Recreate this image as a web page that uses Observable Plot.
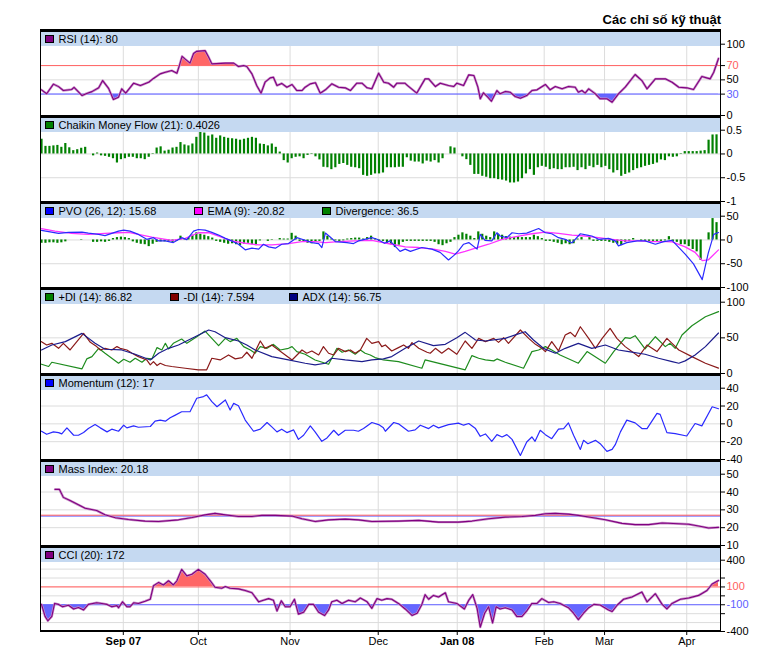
<!DOCTYPE html>
<html><head><meta charset="utf-8">
<script src="https://cdn.jsdelivr.net/npm/d3@7"></script>
<script src="https://cdn.jsdelivr.net/npm/@observablehq/plot@0.6"></script>
<style>
html,body{margin:0;padding:0;background:#fff;}
#chart{position:relative;width:760px;height:662px;font-family:"Liberation Sans",Arial,sans-serif;overflow:hidden;}
.title{position:absolute;right:39px;top:12px;font-size:13px;font-weight:bold;color:#000;}
.border{position:absolute;left:40px;width:681px;height:2.5px;background:#000;}
.header{position:absolute;left:41px;width:679px;height:14.5px;background:#c5d9f1;}
.item{position:absolute;top:0;height:14.5px;display:flex;align-items:center;font-size:11px;white-space:nowrap;color:#000;}
.sw{display:inline-block;width:6.5px;height:6.5px;border:1px solid #000;margin-right:5px;}
.vline{position:absolute;top:29px;width:1px;height:603px;background:#000;}
</style></head>
<body><div id="chart"></div>
<script>
// ---- x axis (trading-day index) ----
const monthTicks = [20.6, 39.5, 62.6, 84.8, 104.7, 126.6, 141.8, 162.5];
const monthLabels = ["Sep 07","Oct","Nov","Dec","Jan 08","Feb","Mar","Apr"];

// ---- RSI (14) [index, value] ----
const rsi = [[0,36],[1.3,30.5],[3,44],[4.3,40.5],[5.5,35],[7.6,36.5],[8.2,39.5],[9,35],[10.2,28],[11.4,31],[12.7,33.5],[14.4,38.8],[15.4,49],[16.9,38],[18.1,22.4],[19.4,25.7],[20.2,37.4],[21.2,31.3],[23.2,45.3],[24.9,42],[27,46.7],[28.2,52],[29.9,58.4],[31.2,60.7],[32.8,63],[34.1,59.3],[34.7,69.6],[35.4,83],[36.2,79],[37.4,73.4],[38.3,87],[39.1,90],[41.2,91],[42.1,81.8],[42.9,72.4],[46.3,73.4],[48.4,73.4],[49.6,68.7],[50.9,70],[51.7,68.7],[53,58.4],[54.2,42],[55.3,31.3],[56.3,46.7],[57.6,52.8],[58.4,53.7],[59.3,42],[60.5,45],[61.8,39.7],[63.1,43.5],[64.3,35],[65.6,35],[66.4,39.7],[67.7,44.4],[69,46],[70.2,31.3],[71.5,36],[73.1,44.4],[74.8,39.7],[76.5,38.8],[77.8,35],[79.4,45.3],[80.7,45.3],[82,38.8],[83.2,37.4],[84.9,59.3],[86.2,46.7],[87.4,45.3],[88.7,39.7],[89.5,45.3],[91.5,45.3],[92.2,42],[94.5,31.3],[96.6,51.4],[97.5,51.4],[99.2,40.6],[100.4,45.3],[102.5,42],[103.8,40.6],[104.6,45.3],[106.3,42],[107.6,57],[108.9,56],[109.9,39.7],[110.5,23.4],[111.3,31.8],[112.4,25.7],[113.3,20],[114.7,35],[115.5,30.4],[116.8,33.6],[118,32.7],[119.3,26.6],[120.6,24.3],[122.2,28],[123.5,35],[124.8,36],[126.9,43.5],[128.1,36],[129.4,40.6],[131.1,37.4],[132.7,40.6],[134.4,39.7],[135.2,32.7],[136.1,35],[136.9,31.3],[137.8,37.4],[139.5,30.4],[140.7,23.4],[142.4,23.4],[143.7,18.7],[145.3,30.4],[147,39.7],[149.5,57.5],[151.2,49],[152.5,37.4],[154.6,51.4],[157.1,51.4],[158.8,46.7],[160.5,39.7],[162.5,38.8],[164.2,36.4],[166.3,54.7],[168.4,51.4],[169.3,60.7],[170.5,80]];

// ---- Chaikin Money Flow (21), one bar per trading day ----
const cmf = [0.31,0.16,0.16,0.17,0.18,0.14,0.22,0.13,0.07,0.09,
0.12,0.14,0,-0.04,0.02,-0.04,-0.05,-0.07,-0.1,-0.19,
-0.12,-0.1,-0.07,-0.07,-0.1,-0.1,-0.12,-0.07,-0.01,0.125,
0.15,0.06,0.08,0.125,0.14,0.24,0.19,0.17,0.21,0.35,
0.47,0.44,0.375,0.4,0.33,0.38,0.35,0.33,0.32,0.31,
0.29,0.31,0.33,0.35,0.33,0.21,0.2,0.17,0.21,0.14,
0.04,-0.14,-0.19,-0.1,-0.07,-0.06,-0.1,-0.03,-0.01,-0.06,
-0.125,-0.28,-0.29,-0.33,-0.29,-0.22,-0.2,-0.24,-0.28,-0.29,
-0.31,-0.45,-0.47,-0.45,-0.42,-0.42,-0.4,-0.29,-0.29,-0.29,
-0.28,-0.28,-0.08,-0.15,-0.17,-0.17,-0.21,-0.15,-0.17,-0.14,
-0.19,-0.1,0,0.15,0.125,0,-0.06,-0.12,-0.24,-0.43,
-0.43,-0.47,-0.49,-0.52,-0.52,-0.54,-0.55,-0.57,-0.61,-0.61,
-0.59,-0.52,-0.42,-0.33,-0.45,-0.29,-0.26,-0.28,-0.33,-0.31,
-0.33,-0.33,-0.29,-0.29,-0.28,-0.35,-0.29,-0.33,-0.26,-0.29,
-0.24,-0.29,-0.26,-0.33,-0.4,-0.35,-0.47,-0.43,-0.4,-0.35,
-0.31,-0.29,-0.26,-0.24,-0.22,-0.19,-0.125,-0.14,-0.06,-0.07,
-0.06,-0.01,0.05,0.05,0.05,0.05,0.06,0.07,0.29,0.4,
0.4026];

// ---- PVO (26,12), EMA (9) [index, value]; Divergence per day ----
const pvo = [[0,20],[4.3,13.8],[6.8,15.9],[10.2,16.6],[11.8,14.5],[14.4,11.7],[16,9],[19.4,18.6],[20.7,20.7],[22.3,18.6],[24.4,11.7],[26.5,1.4],[28.2,4.8],[29.5,-2],[31.2,-2],[33.2,-5.5],[35.3,4.8],[36.6,0.7],[38.3,18.6],[39.5,22],[41.2,20.7],[42.9,15.9],[44.6,10.3],[46.3,3.4],[47.9,-2],[49.6,-9],[51.3,-20.7],[53,-17.2],[54.7,-19.3],[55.9,-9],[57.2,-14.5],[58.9,-17.2],[60.5,-9],[62.2,-7.6],[64.3,4.8],[66.4,-0.7],[68.1,-5.5],[69.8,-7.6],[70.6,-15.9],[71.5,14.5],[72.7,6.2],[74,-3.4],[76.9,-5.5],[78.6,-7.6],[79.8,-2],[83.2,4.8],[84.5,1.4],[86.4,-7],[87.8,-2],[90.3,-24],[91.6,-19.3],[92.9,-24],[95.8,-15.9],[98.3,-19.3],[100.4,-26.2],[102.5,-42],[103.8,-33],[105,-22.8],[106.3,-9],[107.6,-5.5],[109.7,-19.3],[110.5,11.7],[111.7,-0.7],[113.4,-2],[114.7,15.2],[115.5,8.3],[117.2,4.8],[118.5,15.2],[120.2,13.1],[122.2,14.5],[125.2,24.1],[126.9,15.2],[128.5,13.1],[130.2,4.8],[131.9,1.4],[133.6,-6.2],[135.7,13.1],[137.4,10.3],[138.6,8.3],[140.3,1.4],[142.8,3.4],[144.5,-2],[145.3,-12.4],[147.4,-5.5],[150,-2],[152,-2],[154.6,-9],[156.7,-3.4],[158.8,-0.7],[162.1,-29.7],[164.2,-50.3],[166.4,-83.4],[167.9,-28.3],[169.3,11.7],[170.5,15.68]];
const ema = [[0,24],[3.4,18.6],[7.6,13.8],[11.8,11.7],[16,13.8],[19.4,15.2],[21.9,15.9],[24.4,11.7],[27.8,6.2],[32.8,-0.7],[36.2,3.4],[39.5,15.2],[42.1,15.2],[44.6,8.3],[47.9,-2],[51.3,-6.9],[54.7,-10.3],[58,-10.3],[62.2,-7.6],[65.6,-3.4],[68.9,-3.4],[71.5,-5.5],[74.8,-3.4],[79,-2],[83.2,-0.7],[88.2,-9],[91.6,-14.5],[95,-15.9],[98.7,-19.3],[101.7,-24.1],[104.2,-29.7],[106.7,-24.1],[109.7,-15.9],[112.6,-9],[116,1.4],[120.2,8.3],[123.5,13.1],[126.9,16.6],[130.2,13.8],[133.6,10.3],[136.9,8.3],[140.3,4.8],[143.7,1.4],[147,-2],[150.4,-2],[153.7,-3.4],[157.1,-3.4],[158.8,-4.1],[162.1,-14.5],[164.6,-26.2],[166.4,-43.4],[167.9,-42],[170.5,-20.82]];
const divergence = [-7,-7,-6,-6,-7,-6,-4,0,0,0,
1,0,0,-5,-5,-4,-5,-3,3,5,
6,5,3,-4,-7,-9,-10,-14,-9,-5,
-4,-4,-3,-5,-3,8,3,5,10,15,
12,10,7,4,-3,-5,-7,-9,-8,-10,
-12,-9,-7,-10,-12,-2,0,-3,-1,0,
3,2,2,14,8,-3,-5,-7,-8,-5,
-3,17,8,2,-2,-3,-2,2,3,4,
4,2,5,8,3,-3,-3,-7,-10,-16,
-11,-5,-3,-3,-3,-3,-3,-3,-3,-5,
-10,-12,-8,-5,5,10,15,12,8,3,
17,12,8,5,17,12,10,7,6,5,
7,5,5,5,10,7,3,-3,-3,-5,
-7,-10,-8,-10,-8,2,5,0,5,-3,
-3,-3,-3,-5,-7,-9,-12,-5,-3,3,
0,-3,-3,-3,-3,-3,-3,-2,7,-3,
-5,-10,-10,-14,-20,-25,-43,0,15,45,
36.5];

// ---- +DI, -DI, ADX (14) [index, value] ----
const plusDI = [[0,13],[1.8,9.8],[2.6,15.8],[10.2,6.5],[11.4,20.5],[12.7,23.7],[14.4,35.3],[16,28.4],[19.4,14.4],[20.7,20],[22.3,15.8],[23.6,21.4],[25.3,15.8],[26.5,21.4],[27.8,20.5],[29.1,36.3],[30.3,33],[31.2,42.3],[32,34.4],[33.2,42.3],[35.3,48.4],[36.6,42.3],[39.1,51.6],[41.2,59.5],[42.9,49.3],[44.6,39],[46.3,49.3],[47.5,44.7],[49.2,49.3],[50.9,37.7],[52.6,33],[53.8,28.4],[55.1,37.7],[56.8,35.3],[58.4,40.9],[60.1,33],[62.2,35.3],[63.1,37.7],[64.3,30.7],[66.4,27],[68.9,19],[72.3,13],[73.1,21.4],[74.4,35.3],[75.7,29.8],[77.3,33],[79,27],[80.3,33],[81.5,28.4],[82.8,26],[84,22.3],[86.1,19],[89.9,16.7],[95.8,7.4],[96.6,19],[106.7,5.1],[108.4,25.1],[110.1,21.4],[111.8,19],[113.9,17.7],[114.7,20.5],[116.8,15.8],[121.4,7.4],[123.5,30.7],[125.2,33],[126.9,37.7],[128.5,33],[130.6,26],[135.2,14.4],[137.4,30.7],[142,14.4],[144.1,30.7],[147,50.2],[148.3,49.3],[149.5,53],[152,34.4],[154.6,51.6],[157.1,37.7],[158.3,42.3],[159.6,35.3],[161.3,54],[163.8,67],[167.2,79.5],[170.5,86.82]];
const minusDI = [[0,44.7],[1.3,40],[2.6,42.3],[4.3,35.3],[5.5,42.3],[7.2,33],[10.6,56.3],[12.3,43.7],[13.9,37.7],[14.8,33],[16,35.3],[17.7,33],[19,37.7],[19.8,35.3],[21.5,33],[22.8,28.4],[24.4,23.7],[26.5,19],[27.4,12.1],[28.2,16.7],[29.1,11.2],[29.9,14.4],[31.2,11.2],[32.8,9.8],[36.2,7.4],[39.5,5.1],[41.6,5.1],[42.9,21.4],[45,19],[47.1,26],[48.8,20.5],[50.5,22.3],[51.7,29.8],[53,21.4],[55.1,45.6],[56.3,35.3],[58,40],[59.7,33],[63.1,19],[65.6,33],[66.8,28.4],[68.1,31.6],[69.8,26],[71,37.7],[72.3,28.4],[73.6,26],[74.8,35.3],[76.5,30.7],[77.8,33],[79,28.4],[80.3,33],[81.9,49.3],[83.2,42.3],[84.9,44.7],[85.7,37.7],[86.6,40],[88.2,31.6],[89.9,36.3],[91.2,40],[92.4,35.3],[93.3,43.3],[95,35.3],[97.1,29.8],[97.9,28.4],[99.2,35.3],[100.8,28.4],[102.5,35.3],[104.6,27],[106.7,45.6],[108.4,35.3],[110.1,49.3],[111.8,44.7],[113.9,49.3],[115.1,43.7],[116.4,50.2],[117.6,42.3],[120.6,61],[122.7,49.3],[124.4,40.9],[126,35.3],[126.9,30.7],[128.5,44.7],[130.2,31.6],[131.9,54],[133.2,57.7],[134.4,51.6],[135.7,65.6],[137.8,49.3],[139.5,35.3],[141.2,49.3],[143.2,63.3],[144.9,49.3],[147,37.7],[150.4,23.7],[152.5,40],[155,30.7],[157.5,49.3],[158.8,42.3],[160.5,33],[163.8,23.7],[167.2,14.4],[170.5,7.594]];
const adx = [[0,33],[2.6,40],[6,44.7],[10.2,56.3],[13.5,42.3],[16,34],[20.2,33],[23.6,27],[27.4,19],[29.5,28.4],[32,35.3],[34.5,40],[38.7,51.6],[42.1,61],[43.7,58.6],[46.3,50.2],[49.6,45.6],[51.7,40],[53.8,33],[58,23.7],[62.2,19],[66.4,14.4],[68.9,12.1],[71.5,14.4],[73.1,21.4],[76.5,19],[80.7,16.7],[83.2,19],[86.1,20.5],[88.2,23.7],[91.6,35.3],[95,45.6],[98.7,39],[101.7,40.9],[104.6,50.2],[106.7,57.7],[109.3,47],[111.8,45.6],[116.8,49.3],[119.7,54.9],[121.8,58.6],[123.9,47],[126.4,35.3],[129.4,28.4],[131.9,35.3],[135.2,42.3],[138.6,35.3],[142,40],[145.3,33],[147.9,30.7],[152,27],[155.4,21.4],[158.8,16.7],[160.5,14.4],[162.1,17.7],[164.6,26],[167.2,37.7],[170.5,56.75]];

// ---- Momentum (12) ----
const momentum = [[0,-8.3],[1.3,-11.7],[3,-9],[4.3,-9.8],[5.1,-11.3],[6.4,-4.5],[8.1,-12.8],[9.3,-12.8],[10.6,-9.8],[11.8,-5.3],[13.5,-0.8],[14.8,-4.5],[16.5,-9],[17.7,-6],[19.4,-8.3],[20.7,-1.5],[21.5,-4.5],[23.2,-2.3],[24.4,-3.8],[27.4,-3],[28.6,3],[29.9,4.2],[31.2,3],[32.4,6.8],[33.7,9.8],[35.3,13.6],[37.4,13.6],[39.1,28.7],[40.8,30.6],[41.6,32.5],[42.9,24.9],[44.2,19.2],[46.3,26.8],[47.5,15.5],[48.4,23],[49.6,20.4],[51.3,4.2],[53.4,-8.3],[55.1,-6],[56.8,1.5],[58,-3.4],[59.3,-9],[60.5,-6],[61.8,-9.8],[63.5,-6.8],[64.7,-17.4],[66,-12.8],[67.7,-2.3],[68.9,-9],[70.6,-19.6],[71.9,-15.8],[73.6,-7.2],[74.8,-12.8],[76.5,-7.2],[78.6,-7.2],[79.8,-8.3],[81.1,-5.3],[83.2,1.5],[84.9,-0.8],[86.1,-4.5],[86.6,-8.3],[88.7,1.5],[89.9,0],[92.4,-8.3],[94.1,-6.8],[95.4,-1.5],[97.5,-5.3],[98.7,-1.5],[100,-4.5],[102.5,-0.8],[105,0.8],[106.3,-1.5],[107.6,0.4],[109.3,-5.3],[110.5,-14],[111.8,-11.3],[113.4,-19.6],[114.7,-12.1],[116,-14.7],[117.2,-12.1],[118.5,-17.4],[120.6,-35.5],[122.2,-20.4],[123.5,-14.7],[124.3,-19.6],[125.6,-7.2],[126.9,-12.1],[128.5,-16.6],[130.2,-6],[131.5,-5.3],[132.7,1.1],[134,-12.8],[135.7,-28.7],[136.5,-18.5],[137.6,-22.3],[139.5,-18.5],[140.7,-22.3],[142.4,-30.9],[143.7,-28.7],[144.5,-23.4],[145.8,-9],[147.4,4.2],[149.5,1.1],[151.2,-5.3],[152.5,-5.3],[155,11.7],[155.8,10.6],[157.5,-9.8],[159.6,-10.9],[162.5,-13.6],[164.6,0.4],[166.3,-2.3],[168.9,19.2],[170.5,17]];

// ---- Mass Index ----
const massIndex = [[3.4,41.5],[4.5,41.5],[5.5,37],[7.2,35.2],[9.3,32.8],[11,30.9],[13.9,29.6],[16,27.2],[18.6,25.6],[21.9,24.6],[26.1,23.7],[29.5,23.5],[34.5,24.4],[37.9,25.7],[41.2,27.2],[43.7,28],[46.3,27.2],[49.6,26.3],[53,26.3],[55.5,26.9],[58.9,26.9],[63.1,26.5],[65.6,25],[68.9,23.5],[72.3,24.4],[76.5,24.8],[79.8,24.4],[83.2,23.5],[89.9,23.7],[95,24.1],[100,23.1],[105,23.1],[108.4,23.7],[112.6,25],[116.8,25.9],[121,26.3],[124.4,26.9],[126.9,27.8],[129.4,28],[132.7,27.6],[135.2,26.9],[138.6,25.7],[142,24.4],[146.2,22.4],[149.5,21.7],[152.9,21.7],[156.3,22.6],[160.5,22.2],[163,21.9],[165.5,20.9],[168,19.8],[170.5,20.18]];

// ---- CCI (20) ----
const cci = [[0,-96],[0.9,-230],[1.6,-280],[2.6,-230],[3.3,-85],[4.3,-96],[5.3,-122],[6.8,-105],[8.1,-147],[9.3,-130],[10.6,-158],[11.8,-96],[13.9,-78],[15.2,-85],[16.5,-96],[17.7,-122],[19,-110],[19.4,-133],[20.4,-67],[21.5,-122],[22.3,-122],[23.2,-78],[24.4,-85],[26.1,-60],[27.4,-38],[28.2,114],[29.5,151],[30.7,122],[32,169],[33.2,122],[34.1,169],[35.3,297],[36.6,224],[37.9,242],[39.5,297],[41.2,242],[42.5,169],[43.7,96],[45.4,85],[46.3,104],[47.5,85],[49.6,78],[51.3,60],[53,35],[54.7,-67],[55.9,-49],[57.2,-31],[58.4,-49],[59.3,-169],[60.4,-56],[61.4,-122],[62.6,-122],[63.7,-38],[64.7,-205],[66,-184],[67.3,-96],[68.5,-96],[69.8,-184],[71.3,-220],[72.3,-158],[73.1,-67],[74.4,-49],[75.7,-85],[77.3,-49],[79,-67],[80.3,-24],[82,-67],[83.2,-140],[84.5,-31],[85.7,-49],[87,-31],[88.2,-38],[89.9,-85],[91.6,-147],[93.3,-220],[94.6,-195],[95.8,-96],[96.6,13],[97.5,-38],[98.7,5],[100,-13],[101.7,35],[102.5,-67],[104.6,-85],[106.5,-147],[107.6,-49],[108.6,13],[109.7,-140],[110.5,-351],[111.6,-195],[112.6,-122],[113.6,-304],[114.5,-122],[115.5,-147],[116.8,-133],[118.5,-158],[119.7,-231],[121,-231],[122.2,-169],[123.5,-85],[124.8,-85],[126,-31],[127.7,-75],[129,-67],[130.6,-85],[132.7,-133],[134,-195],[135.2,-267],[136.5,-195],[137.8,-133],[139.1,-96],[140.7,-103],[142.8,-158],[143.7,-176],[145,-103],[146.6,-38],[148.7,-13],[151.2,42],[152.5,-67],[154.6,24],[156.3,-96],[157.5,-147],[158.8,-85],[160.9,-38],[163,-24],[165.5,5],[167.6,60],[168.9,133],[170.5,172]];

// ---- styling constants ----
const RED = "#ff6060", BLUE = "#6060ff", GRID = "#dcdcdc";
const FONT = '"Liberation Sans", Arial, sans-serif';
const X = d => d[0], Y = d => d[1];
const chart = document.getElementById("chart");
let clipN = 0;

function clipArea(svg, nth, thr, above) {
  const g = svg.querySelectorAll('g[aria-label="area"]')[nth];
  if (!g) return;
  const py = svg.scale("y").apply(thr);
  const ns = "http://www.w3.org/2000/svg";
  const cp = document.createElementNS(ns, "clipPath");
  const id = "clp" + (clipN++);
  cp.setAttribute("id", id);
  const r = document.createElementNS(ns, "rect");
  r.setAttribute("x", 0); r.setAttribute("width", 760);
  if (above) { r.setAttribute("y", -50); r.setAttribute("height", py + 50); }
  else { r.setAttribute("y", py); r.setAttribute("height", 400); }
  cp.appendChild(r);
  svg.appendChild(cp);
  g.setAttribute("clip-path", `url(#${id})`);
}

function panel(k, cfg) {
  const top = 29 + 86 * k;
  const last = k === 6;
  const svg = Plot.plot({
    width: 760, height: last ? 117 : 87,
    marginLeft: 41, marginRight: 40, marginTop: 14.7, marginBottom: last ? 31 : 1,
    style: {background: "transparent", overflow: "visible", fontFamily: FONT, fontSize: "11px", color: "#000"},
    x: last
      ? {domain: [0, 171], ticks: monthTicks, tickFormat: d => monthLabels[monthTicks.indexOf(d)], tickSize: 4, tickPadding: 2, label: null}
      : {domain: [0, 171], axis: null},
    y: {domain: cfg.domain, axis: "right", ticks: cfg.ticks, tickFormat: cfg.fmt || (d => String(d)), tickSize: 4, tickPadding: 2, label: null},
    marks: [
      Plot.ruleX(monthTicks, {stroke: GRID}),
      Plot.ruleY(cfg.grid, {stroke: GRID}),
      ...cfg.marks
    ]
  });
  svg.style.position = "absolute";
  svg.style.top = top + "px";
  svg.style.left = "0px";
  chart.appendChild(svg);
  (cfg.clips || []).forEach((c, n) => clipArea(svg, n, c[0], c[1]));
  svg.querySelectorAll("text").forEach(t => {
    const s = t.textContent;
    if (cfg.colors && cfg.colors[s]) t.setAttribute("fill", cfg.colors[s]);
    if (last && (s === "Sep 07" || s === "Jan 08")) t.setAttribute("font-weight", "bold");
  });
  return svg;
}

function header(k, items) {
  const top = 29 + 86 * k;
  const b = document.createElement("div");
  b.className = "border"; b.style.top = top + "px";
  const h = document.createElement("div");
  h.className = "header"; h.style.top = (top + 2.5) + "px";
  for (const [left, color, text] of items) {
    const it = document.createElement("div");
    it.className = "item"; it.style.left = left + "px";
    const sw = document.createElement("span"); sw.className = "sw"; sw.style.background = color;
    const tx = document.createElement("span"); tx.textContent = text;
    it.appendChild(sw); it.appendChild(tx);
    h.appendChild(it);
  }
  chart.appendChild(h);
  chart.appendChild(b);
}

const purpleHalo = data => Plot.line(data, {x: X, y: Y, stroke: "#c890c8", strokeWidth: 2.4});

// 1. RSI
panel(0, {
  domain: [0, 100], ticks: [100, 70, 50, 30, 0], grid: [50],
  colors: {"70": RED, "30": BLUE},
  clips: [[70, true], [30, false]],
  marks: [
    Plot.areaY(rsi, {x: X, y1: () => 70, y2: Y, fill: "#ff6666"}),
    Plot.areaY(rsi, {x: X, y1: () => 30, y2: Y, fill: "#6666ff"}),
    Plot.ruleY([70], {stroke: RED}),
    Plot.ruleY([30], {stroke: BLUE}),
    purpleHalo(rsi),
    Plot.line(rsi, {x: X, y: Y, stroke: "#800080", strokeWidth: 1.1})
  ]
});
// 2. CMF
panel(1, {
  domain: [-1, 0.5], ticks: [0.5, 0, -0.5, -1], grid: [0, -0.5],
  marks: [
    Plot.ruleX(cmf, {x: (d, i) => i, y1: () => 0, y2: d => d, stroke: "#008000", strokeWidth: 2.2})
  ]
});
// 3. PVO
panel(2, {
  domain: [-100, 50], ticks: [50, 0, -50, -100], grid: [0, -50],
  marks: [
    Plot.ruleX(divergence, {x: (d, i) => i, y1: () => 0, y2: d => d, stroke: "#008000", strokeWidth: 2.2}),
    Plot.line(ema, {x: X, y: Y, stroke: "#ff33ff", strokeWidth: 1.3}),
    Plot.line(pvo, {x: X, y: Y, stroke: "#2a2aff", strokeWidth: 1.2})
  ]
});
// 4. DI / ADX
panel(3, {
  domain: [0, 100], ticks: [100, 50, 0], grid: [50],
  marks: [
    Plot.line(plusDI, {x: X, y: Y, stroke: "#1e8c1e", strokeWidth: 1.2}),
    Plot.line(minusDI, {x: X, y: Y, stroke: "#8b1a1a", strokeWidth: 1.2}),
    Plot.line(adx, {x: X, y: Y, stroke: "#1c1c8c", strokeWidth: 1.2})
  ]
});
// 5. Momentum
panel(4, {
  domain: [-40, 40], ticks: [40, 20, 0, -20, -40], grid: [20, 0, -20],
  marks: [Plot.line(momentum, {x: X, y: Y, stroke: "#2a2aff", strokeWidth: 1.2})]
});
// 6. Mass Index
panel(5, {
  domain: [10, 50], ticks: [50, 40, 30, 20, 10], grid: [40, 30, 20],
  marks: [
    Plot.ruleY([26.5], {stroke: BLUE}),
    Plot.ruleY([27], {stroke: RED}),
    purpleHalo(massIndex),
    Plot.line(massIndex, {x: X, y: Y, stroke: "#800080", strokeWidth: 1.1})
  ]
});
// 7. CCI
panel(6, {
  domain: [-400, 400], ticks: [400, 200, 100, 0, -100, -200, -400], grid: [300, 200, 0, -200, -300],
  fmt: d => ([400, 100, -100, -400].includes(d) ? String(d) : ""),
  colors: {"100": RED, "-100": BLUE},
  clips: [[100, true], [-100, false]],
  marks: [
    Plot.areaY(cci, {x: X, y1: () => 100, y2: Y, fill: "#ff6666"}),
    Plot.areaY(cci, {x: X, y1: () => -100, y2: Y, fill: "#6666ff"}),
    Plot.ruleY([100], {stroke: RED}),
    Plot.ruleY([-100], {stroke: BLUE}),
    purpleHalo(cci),
    Plot.line(cci, {x: X, y: Y, stroke: "#800080", strokeWidth: 1.1})
  ]
});

header(0, [[4, "#800080", "RSI (14): 80"]]);
header(1, [[4, "#008000", "Chaikin Money Flow (21): 0.4026"]]);
header(2, [[4, "#0000ff", "PVO (26, 12): 15.68"], [153, "#ff00ff", "EMA (9): -20.82"], [281, "#008000", "Divergence: 36.5"]]);
header(3, [[4, "#008000", "+DI (14): 86.82"], [129, "#800000", "-DI (14): 7.594"], [248, "#000080", "ADX (14): 56.75"]]);
header(4, [[4, "#0000ff", "Momentum (12): 17"]]);
header(5, [[4, "#800080", "Mass Index: 20.18"]]);
header(6, [[4, "#800080", "CCI (20): 172"]]);

const bb = document.createElement("div"); bb.className = "border"; bb.style.top = "630px"; bb.style.height = "2px"; chart.appendChild(bb);
for (const lx of [40, 720]) { const v = document.createElement("div"); v.className = "vline"; v.style.left = lx + "px"; chart.appendChild(v); }
const t = document.createElement("div"); t.className = "title"; t.textContent = "Các chỉ số kỹ thuật"; chart.appendChild(t);
</script></body></html>
